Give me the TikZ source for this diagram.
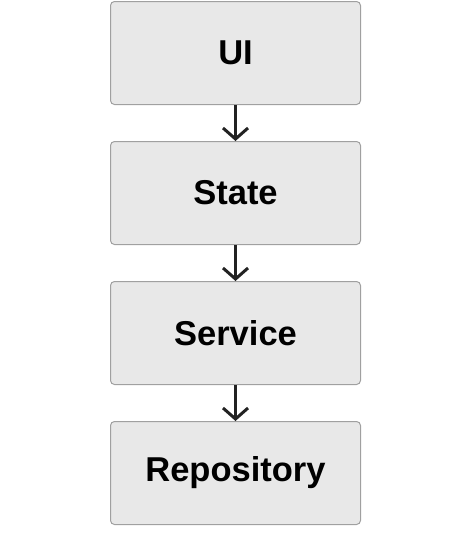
\documentclass[tikz,border=0pt]{standalone}
\usepackage{fontspec}
\setsansfont{Liberation Sans}
\usepackage{tikz}
\usetikzlibrary{positioning, arrows.meta}
\definecolor{BoxFill}{RGB}{232,232,232}
\definecolor{BoxLine}{RGB}{160,160,160}
\definecolor{ArrColor}{RGB}{34,34,34}

\begin{document}
\begin{tikzpicture}[
  x=1pt, y=1pt,
  font=\sffamily\bfseries,
  layer/.style={
    rectangle, rounded corners=4pt, draw=BoxLine, line width=1pt,
    fill=BoxFill, minimum width=250pt, minimum height=103pt,
    inner sep=0pt, font=\fontsize{34.5}{40}\selectfont\sffamily\bfseries
  },
  arr/.style={-{Straight Barb[length=11pt, width=25pt, line width=3pt]},
    line width=3pt, draw=ArrColor}
]
% canvas
\useasboundingbox (0,0) rectangle (472,-533);

% ================ layers ================
\node[layer] (ui) at (235.5,-53) {UI};
\node[layer, below=36pt of ui] (state) {State};
\node[layer, below=36pt of state] (service) {Service};
\node[layer, below=36pt of service] (repo) {Repository};

% ================ arrows ================
\draw[arr] (ui) -- (state);
\draw[arr] (state) -- (service);
\draw[arr] (service) -- (repo);
\end{tikzpicture}
\end{document}
